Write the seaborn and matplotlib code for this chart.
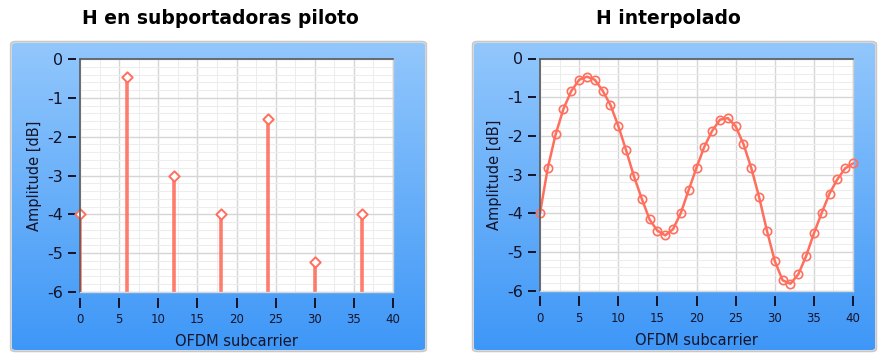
import numpy as np
import pandas as pd
import matplotlib
matplotlib.use("Agg")
import matplotlib.pyplot as plt
import seaborn as sns
from matplotlib.patches import FancyBboxPatch
from matplotlib.lines import Line2D
from matplotlib.ticker import MultipleLocator

# ---------------- data ----------------
pilot_x = [0, 6, 12, 18, 24, 30, 36]
pilot_h = [-4.0, -0.47, -3.02, -4.0, -1.55, -5.22, -4.0]

interp_x = list(range(0, 41))
interp_h = [-4.00, -2.82, -1.96, -1.30, -0.84, -0.55, -0.47, -0.55, -0.83, -1.20,
            -1.74, -2.37, -3.04, -3.62, -4.16, -4.45, -4.57, -4.41, -3.99, -3.40,
            -2.82, -2.28, -1.87, -1.58, -1.54, -1.75, -2.21, -2.83, -3.58, -4.45,
            -5.23, -5.73, -5.82, -5.58, -5.11, -4.52, -3.99, -3.49, -3.12, -2.84,
            -2.71]

titles = ["H en subportadoras piloto", "H interpolado"]
xlabel = "OFDM subcarrier"
ylabel = "Amplitude [dB]"
xticks = [0, 5, 10, 15, 20, 25, 30, 35, 40]
yticks = [0, -1, -2, -3, -4, -5, -6]

# ---------------- style ----------------
sns.set_theme(style="white")
plt.rcParams["font.family"] = ["DejaVu Sans"]

W, H = 880, 354
fig = plt.figure(figsize=(W / 100, H / 100), dpi=100)
fig.patch.set_facecolor("white")

RED = "#ff6f5e"
TXT = "#14142a"

def px(x0, y0, x1, y1):
    """pixel box (top-left origin) -> figure fraction rect"""
    return [x0 / W, 1 - y1 / H, (x1 - x0) / W, (y1 - y0) / H]

def panel(x0, y0, x1, y1):
    # shadow/border
    bax = fig.add_axes(px(x0 - 3, y0 - 3, x1 + 3, y1 + 3), zorder=0)
    bax.set_xlim(0, 1); bax.set_ylim(0, 1); bax.axis("off")
    border = FancyBboxPatch((0.004, 0.005), 0.992, 0.99,
                            boxstyle="round,pad=0,rounding_size=0.012",
                            fc="#e4e4e4", ec="#c8c8c8", lw=1.2,
                            transform=bax.transAxes, mutation_aspect=(y1 - y0) / (x1 - x0))
    bax.add_patch(border)
    gax = fig.add_axes(px(x0, y0, x1, y1), zorder=0.5)
    gax.axis("off")
    grad = np.linspace(0, 1, 256).reshape(-1, 1)
    top = np.array([0x92, 0xc7, 0xfc]) / 255
    bot = np.array([0x3e, 0x97, 0xf7]) / 255
    img = top[None, None, :] * (1 - grad[:, :, None]) + bot[None, None, :] * grad[:, :, None]
    im = gax.imshow(img, aspect="auto", extent=(0, 1, 0, 1), origin="upper")
    gax.set_xlim(0, 1); gax.set_ylim(0, 1)
    clip = FancyBboxPatch((0, 0), 1, 1, boxstyle="round,pad=0,rounding_size=0.01",
                          fc="none", ec="none", transform=gax.transAxes,
                          mutation_aspect=(y1 - y0) / (x1 - x0))
    gax.add_patch(clip)
    im.set_clip_path(clip)

def style_axes(ax):
    ax.set_facecolor("white")
    ax.set_xlim(0, 40)
    ax.set_ylim(-6, 0)
    ax.xaxis.set_major_locator(MultipleLocator(5))
    ax.xaxis.set_minor_locator(MultipleLocator(2.5))
    ax.yaxis.set_major_locator(MultipleLocator(1))
    ax.yaxis.set_minor_locator(MultipleLocator(0.2))
    ax.set_xticks(xticks)
    ax.set_yticks(yticks)
    ax.set_xticklabels([str(v) for v in xticks])
    ax.set_yticklabels([str(v) for v in yticks])
    ax.grid(which="major", color="#d6d6d6", lw=1.0)
    ax.grid(which="minor", color="#ededed", lw=0.8)
    ax.set_axisbelow(True)
    for s in ["left", "bottom"]:
        ax.spines[s].set_visible(False)
    ax.spines["bottom"].set_position(("outward", 4))
    ax.spines["left"].set_position(("outward", 3))
    ax.spines["top"].set_color("#5a5a5a"); ax.spines["top"].set_linewidth(1.2)
    ax.spines["right"].set_color("#d0d0d0"); ax.spines["right"].set_linewidth(1.0)
    ax.add_line(Line2D([0, 0], [0, 1], transform=ax.transAxes, color="#5a5a5a", lw=1.2, clip_on=False, zorder=5))
    ax.add_line(Line2D([0, 1], [0, 0], transform=ax.transAxes, color="#d8d8d8", lw=1.0, clip_on=False, zorder=5))
    ax.tick_params(axis="x", which="major", direction="out", length=7, width=1.4,
                   color=TXT, pad=4, labelsize=8.5, labelcolor=TXT, bottom=True)
    ax.tick_params(axis="y", which="major", direction="out", length=6, width=1.4,
                   color=TXT, pad=3, labelsize=11.5, labelcolor=TXT, left=True)
    ax.tick_params(which="minor", length=0)
    for lab in ax.get_xticklabels():
        lab.set_family(["Liberation Sans Narrow", "DejaVu Sans"])
    ax.set_xlabel(xlabel, fontsize=10.5, color=TXT, labelpad=6)
    ax.set_ylabel(ylabel, fontsize=10.5, color=TXT, labelpad=4)

# panels
panel(12, 43, 425, 350)
panel(474, 43, 875, 350)

# titles
fig.text(220 / W, 1 - 19 / H, titles[0], ha="center", va="center",
         fontsize=13.5, fontweight="bold", color="black")
fig.text(668 / W, 1 - 19 / H, titles[1], ha="center", va="center",
         fontsize=13.5, fontweight="bold", color="black")

# ---- left: pilot stems ----
ax1 = fig.add_axes(px(80, 59, 393, 292), zorder=2)
style_axes(ax1)
df_p = pd.DataFrame({"x": pilot_x, "h": pilot_h})
ax1.vlines(df_p["x"], ymin=-6, ymax=df_p["h"], color=RED, lw=2.6, alpha=0.9, zorder=3)
sns.scatterplot(data=df_p, x="x", y="h", ax=ax1, marker="D", s=28,
                facecolor="white", edgecolor=RED, linewidth=1.4, zorder=4, clip_on=False)
ax1.set_xlabel(xlabel, fontsize=10.5, color=TXT, labelpad=6)
ax1.set_ylabel(ylabel, fontsize=10.5, color=TXT, labelpad=4)

# ---- right: interpolated ----
ax2 = fig.add_axes(px(540, 58.5, 853, 290.7), zorder=2)
style_axes(ax2)
df_i = pd.DataFrame({"x": interp_x, "h": interp_h})
sns.lineplot(data=df_i, x="x", y="h", ax=ax2, color=RED, lw=1.8, marker="o",
             markersize=6, markerfacecolor="none", markeredgecolor=RED,
             markeredgewidth=1.2, zorder=3, clip_on=False)
ax2.set_xlabel(xlabel, fontsize=10.5, color=TXT, labelpad=6)
ax2.set_ylabel(ylabel, fontsize=10.5, color=TXT, labelpad=4)

fig.savefig("out.png", dpi=100)
